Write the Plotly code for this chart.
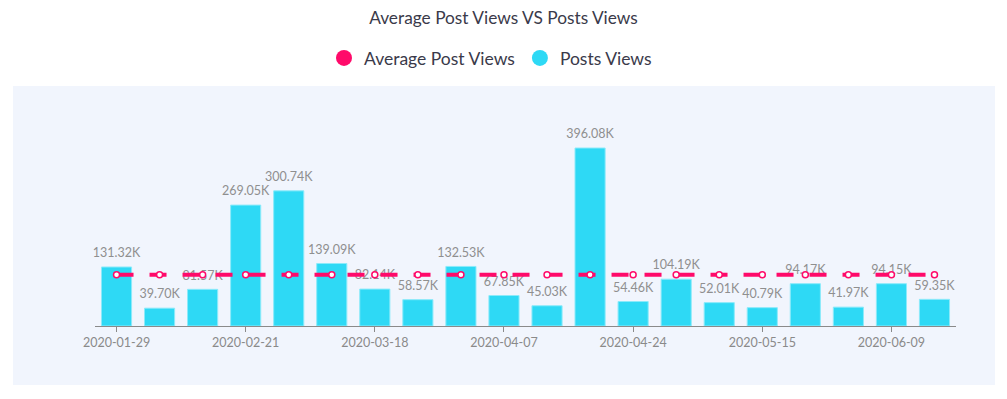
import plotly.graph_objects as go

dates = ["2020-01-29", "2020-02-05", "2020-02-13", "2020-02-21", "2020-03-01",
         "2020-03-09", "2020-03-18", "2020-03-25", "2020-03-31", "2020-04-07",
         "2020-04-13", "2020-04-18", "2020-04-24", "2020-05-01", "2020-05-08",
         "2020-05-15", "2020-05-22", "2020-05-31", "2020-06-09", "2020-06-16"]
post_views = [131320, 39700, 81570, 269050, 300740, 139090, 82140, 58570, 132530, 67850,
              45030, 396080, 54460, 104190, 52010, 40790, 94170, 41970, 94150, 59350]
avg_views = [114238] * 20
tick_dates = ["2020-01-29", "2020-02-21", "2020-03-18", "2020-04-07",
              "2020-04-24", "2020-05-15", "2020-06-09"]

PINK = "#ff0a6a"
CYAN = "#2ed9f5"
FONT = "Lato"

labels = [f"{v/1000:.2f}K" for v in post_views]

fig = go.Figure()
fig.add_trace(go.Bar(
    x=dates, y=post_views, name="Posts Views",
    marker=dict(color=CYAN, line=dict(color="#8ceafa", width=1)),
    showlegend=False, hoverinfo="x+y",
))
fig.add_trace(go.Scatter(
    x=dates, y=post_views, mode="markers+text", text=labels, textposition="top center",
    marker=dict(size=9, color="rgba(0,0,0,0)"),
    textfont=dict(color="#8f8f8f", size=12.5, family=FONT),
    showlegend=False, cliponaxis=False, hoverinfo="skip",
))
fig.add_trace(go.Scatter(
    x=dates, y=avg_views, name="Average Post Views", mode="lines+markers",
    line=dict(color=PINK, width=4, dash="17px,16px"),
    marker=dict(symbol="circle", size=6, color="white", line=dict(color=PINK, width=1.5)),
    showlegend=False, cliponaxis=False,
))
# legend entries
fig.add_trace(go.Scatter(x=[dates[0]], y=[None], mode="markers", name="Average Post Views",
                         marker=dict(symbol="circle", size=16, color=PINK)))
fig.add_trace(go.Scatter(x=[dates[0]], y=[None], mode="markers", name="Posts Views",
                         marker=dict(symbol="circle", size=16, color=CYAN)))

L, R, T, B = 95, 51, 128, 73
W, H = 1007, 399
pw, ph = W - L - R, H - T - B

def px(x):
    return (x - L) / pw

def py(y):
    return (H - B - y) / ph

fig.add_shape(type="rect", xref="paper", yref="paper",
              x0=px(13), x1=px(995), y0=py(385), y1=py(86),
              fillcolor="#f1f5fd", line=dict(width=0), layer="below")

fig.update_layout(
    width=W, height=H,
    margin=dict(l=L, r=R, t=T, b=B),
    paper_bgcolor="white", plot_bgcolor="rgba(0,0,0,0)",
    font=dict(family=FONT, color="#444"),
    title=dict(text="Average Post Views VS Posts Views", x=0.5, xanchor="center",
               y=1 - 18 / H, yanchor="middle", font=dict(size=17.3, color="#3a3a4a", family=FONT)),
    legend=dict(orientation="h", x=px(324), xanchor="left", y=1 - 58 / H, yref="container",
                yanchor="middle", font=dict(size=17.5, color="#3a3a4a", family=FONT),
                itemwidth=30, tracegroupgap=0),
    bargap=0.3,
    xaxis=dict(type="category", tickmode="array", tickvals=tick_dates, ticktext=tick_dates,
               range=[-0.5, len(dates) - 0.5],
               showgrid=False, showline=True, linecolor="#8a8a8a", linewidth=1,
               ticks="outside", ticklen=5, tickcolor="#8a8a8a",
               tickfont=dict(size=12.5, color="#8a8a8a", family=FONT), zeroline=False),
    yaxis=dict(range=[0, 440600], visible=False, showgrid=False, zeroline=False),
)

fig.write_html("out.html", config={"displayModeBar": False},
               post_script="document.body.style.margin='0px';")
